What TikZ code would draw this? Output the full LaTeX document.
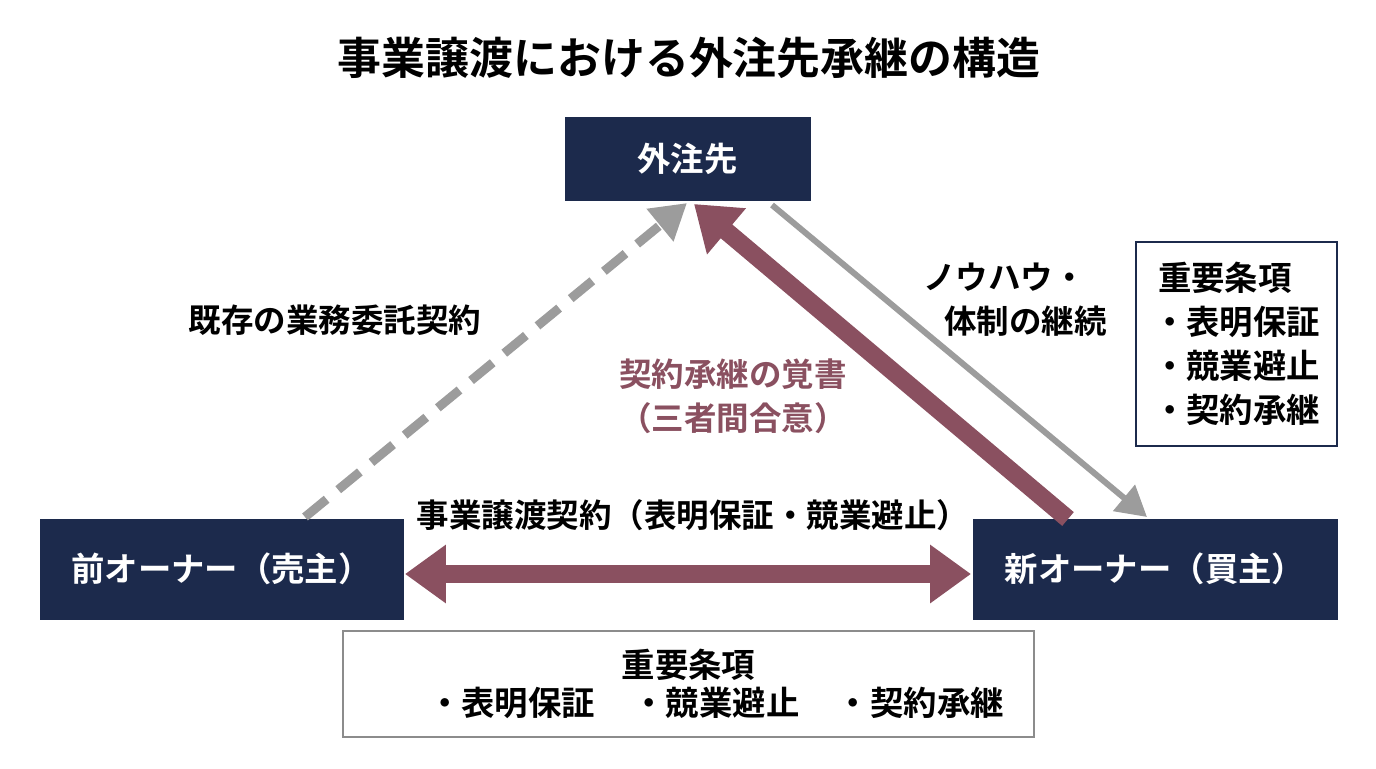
\documentclass[tikz,border=0pt]{standalone}
\usepackage{fontspec}
\setmainfont{Noto Sans CJK JP}[BoldFont={Noto Sans CJK JP Bold}]
\usetikzlibrary{arrows.meta}

\definecolor{navy}{HTML}{1C2A4C}
\definecolor{maroon}{HTML}{8A5060}
\definecolor{arrowgray}{HTML}{9C9C9C}
\definecolor{framegray}{HTML}{8C8C8C}

\begin{document}
\begin{tikzpicture}[
        x=0.02cm, y=-0.02cm,
        party/.style={draw=navy, fill=navy, text=white, font=\fontsize{19pt}{23pt}\selectfont\bfseries,
            inner sep=0pt},
        lbl/.style={font=\fontsize{18.5pt}{25pt}\selectfont\bfseries, inner sep=0pt},
        termbox/.style={draw, line width=1.2pt, fill=white, inner sep=0pt,
            font=\fontsize{19pt}{25pt}\selectfont\bfseries}
    ]
        \useasboundingbox (0,0) rectangle (1376,768);

        % タイトル
        \node[font=\fontsize{25pt}{29pt}\selectfont\bfseries] (title) at (689,58) {事業譲渡における外注先承継の構造};

        % --- 三者 ---
        \node[party, minimum width=4.9cm, minimum height=1.66cm] (vendor) at (687.5,158.5) {外注先};
        \node[party, minimum width=7.26cm, minimum height=2cm] (seller) at (221.5,569) {前オーナー（売主）};
        \node[party, minimum width=7.28cm, minimum height=2cm] (buyer) at (1155,569) {新オーナー（買主）};

        % 矢印の端点
        \coordinate (dashS) at (305,517);
        \coordinate (dashE) at (687,203);
        \coordinate (memoS) at (1068,519);
        \coordinate (memoE) at (694,204);
        \coordinate (knowS) at (772,205);
        \coordinate (knowE) at (1147,517);
        \coordinate (dealL) at (405,574);
        \coordinate (dealR) at (971,574);

        % 既存の業務委託契約（破線）
        \draw[arrowgray, line width=0.18cm, dash pattern=on 0.56cm off 0.3cm,
            -{Triangle[width=0.8cm, length=0.7cm]}] (dashS) -- (dashE);
        % ノウハウ・体制の継続
        \draw[arrowgray, line width=0.12cm,
            -{Triangle[width=0.66cm, length=0.6cm]}] (knowS) -- (knowE);
        % 契約承継の覚書
        \draw[maroon, line width=0.36cm,
            -{Triangle[width=1.15cm, length=0.85cm]}] (memoS) -- (memoE);
        % 事業譲渡契約（両方向）
        \draw[maroon, line width=0.36cm,
            {Triangle[width=1.12cm, length=0.82cm]}-{Triangle[width=1.12cm, length=0.82cm]}] (dealL) -- (dealR);

        % --- ラベル ---
        \node[lbl] (existing) at (335,320) {既存の業務委託契約};
        \node[lbl, align=left] (knowhow) at (1015,300) {ノウハウ・\\\hspace*{0.42cm}体制の継続};
        \node[lbl, text=maroon, align=center] (memo) at (733,396) {契約承継の覚書\\（三者間合意）};
        \node[lbl] (deal) at (693,515) {事業譲渡契約（表明保証・競業避止）};

        % --- 重要条項 ---
        \node[termbox, draw=navy, minimum width=4.02cm, minimum height=4.08cm, align=left] (termsR) at (1236.5,344)
            {\hspace*{0.1cm}重要条項\\・表明保証\\・競業避止\\・契約承継};
        \node[termbox, draw=framegray, minimum width=13.82cm, minimum height=2.12cm, align=center,
            font=\fontsize{19pt}{22pt}\selectfont\bfseries] (termsB) at (688.5,684)
            {重要条項\\\hspace*{1.1cm}・表明保証\hspace{0.75cm}・競業避止\hspace{0.75cm}・契約承継};
    \end{tikzpicture}
\end{document}
